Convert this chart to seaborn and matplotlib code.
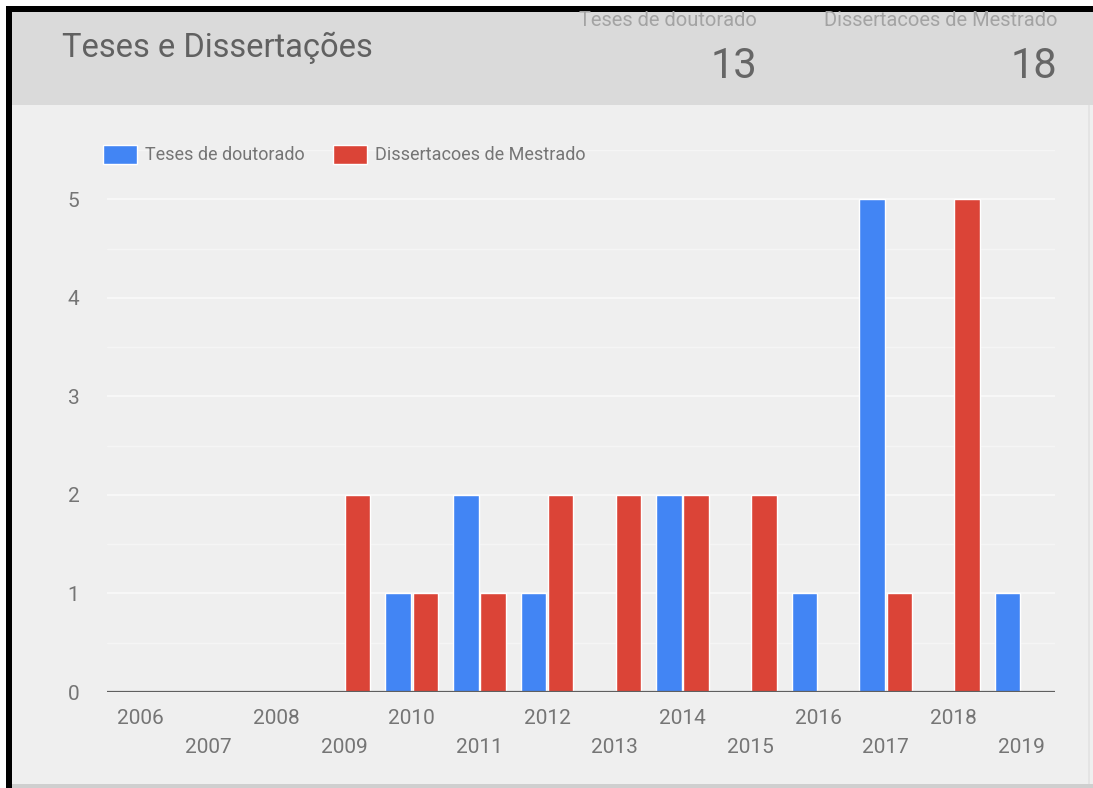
import matplotlib
matplotlib.use("Agg")
import matplotlib.pyplot as plt
import matplotlib.patches as mpatches
from matplotlib.ticker import MultipleLocator
import seaborn as sns
import pandas as pd

# ---- data ----
years = ["2006", "2007", "2008", "2009", "2010", "2011", "2012",
         "2013", "2014", "2015", "2016", "2017", "2018", "2019"]
teses = [0, 0, 0, 0, 1, 2, 1, 0, 2, 0, 1, 5, 0, 1]
dissertacoes = [0, 0, 0, 2, 1, 1, 2, 2, 2, 2, 0, 1, 5, 0]
series_names = ["Teses de doutorado", "Dissertacoes de Mestrado"]
title = "Teses e Dissertações"
kpi_values = [sum(teses), sum(dissertacoes)]

BLUE = "#4285F4"
RED = "#DB4437"

df = pd.DataFrame({
    "year": years * 2,
    "count": teses + dissertacoes,
    "serie": [series_names[0]] * len(years) + [series_names[1]] * len(years),
})

sns.set_theme(style="white")
plt.rcParams["font.family"] = ["Roboto", "DejaVu Sans"]

W, H = 1093, 788
fig = plt.figure(figsize=(W / 100, H / 100), dpi=100, facecolor="#efefef")

def px_rect(x0, y0, x1, y1, color, z=0):
    fig.patches.append(mpatches.Rectangle(
        (x0 / W, 1 - y1 / H), (x1 - x0) / W, (y1 - y0) / H,
        transform=fig.transFigure, facecolor=color, edgecolor="none",
        zorder=z))

# frame like a screenshot crop
px_rect(0, 0, W, 6, "white")
px_rect(0, 0, 6, H, "white")
px_rect(6, 6, W, 12, "black")
px_rect(6, 6, 12, H, "black")
px_rect(12, 12, W, 105, "#dadada")
px_rect(12, 784, W, H, "#cfcfcf")
px_rect(1088, 105, 1090, 784, "#e4e4e4")

# header texts
fig.text(62 / W, 1 - 48 / H, title, ha="left", va="center",
         fontsize=23.5, color="#616161")
fig.text(757 / W, 1 - 21 / H, series_names[0], ha="right", va="center",
         fontsize=14.5, color="#a3a3a3")
fig.text(1057 / W, 1 - 21 / H, series_names[1], ha="right", va="center",
         fontsize=14.5, color="#a3a3a3")
fig.text(757 / W, 1 - 67 / H, str(kpi_values[0]), ha="right", va="center",
         fontsize=30, color="#666666")
fig.text(1057 / W, 1 - 67 / H, str(kpi_values[1]), ha="right", va="center",
         fontsize=30, color="#666666")

# axes
left, right = 107, 1055
bottom, top = 692, 150
ax = fig.add_axes([left / W, 1 - bottom / H, (right - left) / W, (bottom - top) / H])
ax.set_facecolor("none")

sns.barplot(data=df, x="year", y="count", hue="serie",
            palette=[BLUE, RED], saturation=1, width=0.8, gap=0.06,
            ax=ax, legend=True)

ax.set_xlim(-0.5, len(years) - 0.5)
ax.set_ylim(0, 5.5)
ax.yaxis.set_major_locator(MultipleLocator(1))
ax.yaxis.set_minor_locator(MultipleLocator(0.5))
ax.grid(which="major", axis="y", color="#f9f9f9", linewidth=1.2)
ax.grid(which="minor", axis="y", color="#f5f5f5", linewidth=1.0)
ax.set_axisbelow(True)
for s in ax.spines.values():
    s.set_visible(False)
ax.axhline(0, color="#5f5f5f", linewidth=1.6, zorder=5)
ax.set_xlabel("")
ax.set_ylabel("")

ax.set_yticks(range(0, 6))
ax.set_yticklabels([str(v) for v in range(0, 6)])
ax.tick_params(axis="y", which="both", length=0, pad=24, labelsize=15, labelcolor="#757575")
ax.tick_params(axis="x", length=0, pad=12, labelsize=15, labelcolor="#757575")

xt = [y if i % 2 == 0 else "\n" + y for i, y in enumerate(years)]
ax.set_xticks(range(len(years)))
ax.set_xticklabels(xt)
for lbl in ax.get_xticklabels():
    lbl.set_linespacing(1.7)
for lbl in ax.get_yticklabels():
    lbl.set_horizontalalignment("center")

# legend
handles, labels = ax.get_legend_handles_labels()
ax.legend(handles, labels, loc="upper left", ncol=2, frameon=False,
          bbox_to_anchor=(103 / W, 1 - 145 / H), bbox_transform=fig.transFigure,
          borderpad=0, borderaxespad=0, handlelength=1.9, handleheight=1.2,
          handletextpad=0.4, columnspacing=1.6, fontsize=13,
          labelcolor="#757575")

fig.savefig("out.png", dpi=100, facecolor=fig.get_facecolor())
